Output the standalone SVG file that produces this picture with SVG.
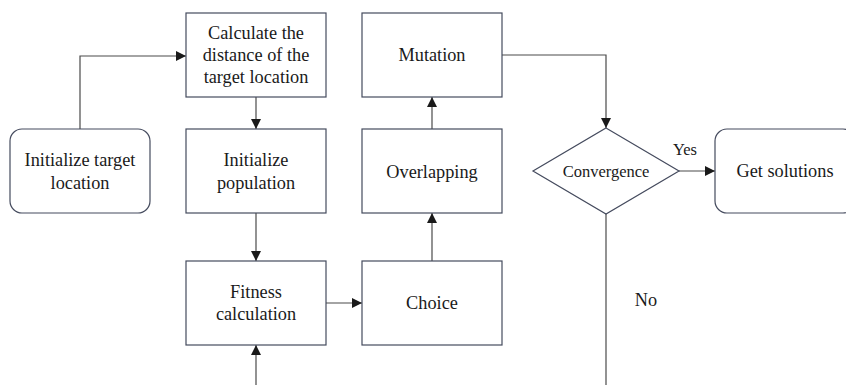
<svg xmlns="http://www.w3.org/2000/svg" width="846" height="385" viewBox="0 0 846 385">
<defs>
<marker id="ah" markerWidth="10" markerHeight="10" refX="10" refY="5" orient="auto" markerUnits="userSpaceOnUse">
<path d="M0,0 L10,5 L0,10 Z" fill="#1a1a1a"/>
</marker>
<style>
.box{fill:#fff;stroke:#454b5e;stroke-width:1.2}
.t{font-family:"Liberation Serif","Times New Roman",serif;font-size:18.3px;fill:#1a1a1a;text-anchor:middle}
.s{font-size:16.5px}
.c{fill:none;stroke:#4a4a4a;stroke-width:1.2}
</style>
</defs>
<rect width="846" height="385" fill="#fff"/>
<g id="connectors">
<path class="c" d="M80,129 V56 H186" marker-end="url(#ah)"/>
<path class="c" d="M256,97 V129" marker-end="url(#ah)"/>
<path class="c" d="M256,213 V261" marker-end="url(#ah)"/>
<path class="c" d="M256,385 V345" marker-end="url(#ah)"/>
<path class="c" d="M326,303 H362" marker-end="url(#ah)"/>
<path class="c" d="M432,261 V213" marker-end="url(#ah)"/>
<path class="c" d="M432,129 V97" marker-end="url(#ah)"/>
<path class="c" d="M502,55 H606 V128" marker-end="url(#ah)"/>
<path class="c" d="M679,171 H715" marker-end="url(#ah)"/>
<path class="c" d="M606,214 V385"/>
<text class="t s" x="685" y="155">Yes</text>
<text class="t" x="646" y="306">No</text>
</g>
<g id="init-target">
<rect class="box" x="10" y="129" width="140" height="84" rx="12"/>
<text class="t" x="80" y="166">Initialize target</text>
<text class="t" x="80" y="189">location</text>
</g>
<g id="calc-distance">
<rect class="box" x="186" y="13" width="140" height="84"/>
<text class="t" x="256" y="39">Calculate the</text>
<text class="t" x="256" y="61">distance of the</text>
<text class="t" x="256" y="83">target location</text>
</g>
<g id="init-population">
<rect class="box" x="186" y="129" width="140" height="84"/>
<text class="t" x="256" y="166">Initialize</text>
<text class="t" x="256" y="189">population</text>
</g>
<g id="fitness">
<rect class="box" x="186" y="261" width="140" height="84"/>
<text class="t" x="256" y="298">Fitness</text>
<text class="t" x="256" y="320">calculation</text>
</g>
<g id="choice">
<rect class="box" x="362" y="261" width="140" height="84"/>
<text class="t" x="432" y="309">Choice</text>
</g>
<g id="overlapping">
<rect class="box" x="362" y="129" width="140" height="84"/>
<text class="t" x="432" y="178">Overlapping</text>
</g>
<g id="mutation">
<rect class="box" x="362" y="13" width="140" height="84"/>
<text class="t" x="432" y="61">Mutation</text>
</g>
<g id="convergence">
<polygon class="box" points="606,128 679,171 606,214 533,171"/>
<text class="t s" x="606" y="177">Convergence</text>
</g>
<g id="get-solutions">
<rect class="box" x="715" y="129" width="140" height="84" rx="12"/>
<text class="t" x="785" y="177">Get solutions</text>
</g>
</svg>
